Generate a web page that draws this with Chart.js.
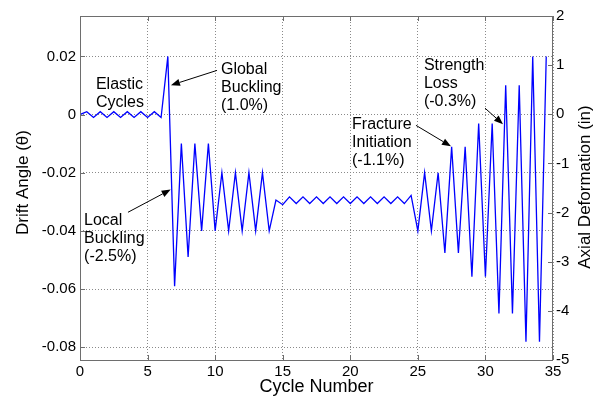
<!DOCTYPE html>
<html>
<head>
<meta charset="utf-8">
<script src="https://cdn.jsdelivr.net/npm/chart.js@4.4.1/dist/chart.umd.min.js"></script>
<style>
  html, body { margin: 0; padding: 0; background: #fff; }
</style>
</head>
<body>
<canvas id="chart" width="597" height="398"></canvas>
<script>
// cycle number of each turning point of the loading history
const cycles = [
  0, 0.5, 1, 1.5, 2, 2.5, 3, 3.5, 4, 4.5, 5, 5.5, 6,
  6.5, 7, 7.5, 8, 8.5, 9, 9.5, 10, 10.5, 11, 11.5, 12, 12.5, 13, 13.5, 14,
  14.5, 15, 15.5, 16, 16.5, 17, 17.5, 18, 18.5, 19, 19.5, 20, 20.5, 21, 21.5,
  22, 22.5, 23, 23.5, 24, 24.5,
  25, 25.5, 26, 26.5, 27, 27.5, 28, 28.5, 29, 29.5, 30, 30.5, 31, 31.5, 32,
  32.5, 33, 33.5, 34, 34.5
];
// drift angle at those points
const driftAngle = [
  0, 0.001, -0.001, 0.001, -0.001, 0.001, -0.001, 0.001, -0.001, 0.001, -0.001, 0.001, -0.001,
  0.02, -0.059, -0.01, -0.049, -0.01, -0.04, -0.01, -0.04, -0.02, -0.04, -0.02, -0.04, -0.02, -0.04, -0.02, -0.04,
  -0.0294, -0.031, -0.0283, -0.0306, -0.0283, -0.0306, -0.0283, -0.0306, -0.0283, -0.0306, -0.0283, -0.0306, -0.0283, -0.0306, -0.0283,
  -0.0306, -0.0283, -0.0306, -0.0283, -0.0306, -0.0278,
  -0.04, -0.02, -0.04, -0.02, -0.0476, -0.0111, -0.0476, -0.0111, -0.0558, -0.0031, -0.0558, -0.0031, -0.0684, 0.0101, -0.0684,
  0.0101, -0.0781, 0.02, -0.0781, 0.02
];

const cycleTicks = [0, 5, 10, 15, 20, 25, 30, 35];
const driftTicks = [-0.08, -0.06, -0.04, -0.02, 0, 0.02];
const axialTicks = [-5, -4, -3, -2, -1, 0, 1, 2];

// callouts: text anchored at first baseline, arrows tail -> head (data units)
const notes = [
  { lines: ["Elastic", "Cycles"], x: 1.18, y: 0.0089 },
  { lines: ["Global", "Buckling", "(1.0%)"], x: 10.43, y: 0.0141 },
  { lines: ["Local", "Buckling", "(-2.5%)"], x: 0.3, y: -0.038 },
  { lines: ["Fracture", "Initiation", "(-1.1%)"], x: 20.13, y: -0.0051 },
  { lines: ["Strength", "Loss", "(-0.3%)"], x: 25.45, y: 0.0154 },
];
const arrows = [
  { from: [10.14, 0.0152], to: [6.73, 0.0101] },
  { from: [3.55, -0.0336], to: [6.71, -0.0258] },
  { from: [24.86, -0.0037], to: [27.45, -0.0109] },
  { from: [29.97, 0.0022], to: [31.3, -0.0033] },
];

const FONT = "'Liberation Sans', Arial, sans-serif";
const frameColor = "#6e6e6e";

const overlay = {
  id: "overlay",
  afterDraw(chart) {
    const { ctx, chartArea: a, scales } = chart;
    const sx = scales.x, sy = scales.y, sy2 = scales.y2;
    ctx.save();

    // box and inward ticks
    ctx.strokeStyle = frameColor;
    ctx.lineWidth = 1;
    ctx.strokeRect(a.left + 0.5, a.top + 0.5, a.right - a.left - 1, a.bottom - a.top);
    ctx.beginPath();
    driftTicks.forEach((v) => {
      const p = Math.round(sy.getPixelForValue(v)) + 0.5;
      ctx.moveTo(a.left, p);
      ctx.lineTo(a.left + 5, p);
    });
    axialTicks.forEach((v) => {
      const p = Math.round(sy2.getPixelForValue(v)) + 0.5;
      ctx.moveTo(a.right - 5, p);
      ctx.lineTo(a.right, p);
    });
    cycleTicks.forEach((v) => {
      const p = Math.round(sx.getPixelForValue(v)) + 0.5;
      ctx.moveTo(p, a.bottom);
      ctx.lineTo(p, a.bottom - 5);
      ctx.moveTo(p, a.top);
      ctx.lineTo(p, a.top + 5);
    });
    ctx.stroke();

    // axis titles read bottom to top on both sides
    ctx.fillStyle = "#000";
    ctx.font = "17px " + FONT;
    ctx.textAlign = "center";
    ctx.textBaseline = "middle";
    ctx.save();
    ctx.translate(23.5, 182.5);
    ctx.rotate(-Math.PI / 2);
    ctx.fillText("Drift Angle (\u03b8)", 0, 0);
    ctx.restore();
    ctx.save();
    ctx.translate(585, 187);
    ctx.rotate(-Math.PI / 2);
    ctx.fillText("Axial Deformation (in)", 0, 0);
    ctx.restore();

    // callout text
    ctx.font = "16px " + FONT;
    ctx.textAlign = "left";
    ctx.textBaseline = "alphabetic";
    notes.forEach((n) => {
      const px = sx.getPixelForValue(n.x);
      const py = sy.getPixelForValue(n.y);
      n.lines.forEach((t, i) => ctx.fillText(t, px, py + i * 18));
    });

    // arrows
    ctx.strokeStyle = "#000";
    ctx.fillStyle = "#000";
    arrows.forEach((ar) => {
      const x1 = sx.getPixelForValue(ar.from[0]), y1 = sy.getPixelForValue(ar.from[1]);
      const x2 = sx.getPixelForValue(ar.to[0]), y2 = sy.getPixelForValue(ar.to[1]);
      const ang = Math.atan2(y2 - y1, x2 - x1);
      const len = 9, half = 3.5;
      const bx = x2 - len * Math.cos(ang), by = y2 - len * Math.sin(ang);
      ctx.beginPath();
      ctx.moveTo(x1, y1);
      ctx.lineTo(bx, by);
      ctx.stroke();
      ctx.beginPath();
      ctx.moveTo(x2, y2);
      ctx.lineTo(bx + half * Math.sin(ang), by - half * Math.cos(ang));
      ctx.lineTo(bx - half * Math.sin(ang), by + half * Math.cos(ang));
      ctx.closePath();
      ctx.fill();
    });

    ctx.restore();
  },
};

const gridOpts = { color: "#8a8a8a", lineWidth: 1, drawTicks: false };
const borderOpts = { display: false, dash: [1, 2] };

new Chart(document.getElementById("chart"), {
  type: "line",
  data: {
    datasets: [
      {
        data: cycles.map((c, i) => ({ x: c, y: driftAngle[i] })),
        borderColor: "#0000ff",
        borderWidth: 1.3,
        pointRadius: 0,
        tension: 0,
        fill: false,
        yAxisID: "y",
      },
    ],
  },
  options: {
    responsive: false,
    animation: false,
    layout: { padding: { top: 16, left: 0, right: 0, bottom: 0 } },
    plugins: { legend: { display: false }, tooltip: { enabled: false } },
    scales: {
      x: {
        type: "linear",
        min: 0,
        max: 35,
        afterBuildTicks: (s) => { s.ticks = cycleTicks.map((v) => ({ value: v })); },
        afterFit: (s) => { s.height = 38; },
        grid: gridOpts,
        border: borderOpts,
        ticks: { color: "#000", padding: 3, font: { family: FONT, size: 15 }, callback: (v) => String(v), maxRotation: 0 },
        title: {
          display: true,
          text: "Cycle Number",
          color: "#000",
          font: { family: FONT, size: 18 },
          padding: { top: 0, bottom: 0 },
        },
      },
      y: {
        type: "linear",
        position: "left",
        min: -0.0844,
        max: 0.0339,
        afterBuildTicks: (s) => { s.ticks = driftTicks.map((v) => ({ value: v })); },
        afterFit: (s) => { s.width = 80; },
        grid: gridOpts,
        border: borderOpts,
        ticks: {
          color: "#000",
          padding: 4,
          font: { family: FONT, size: 15 },
          callback: (v) => (v === 0 ? "0" : v.toFixed(2)),
        },
      },
      y2: {
        type: "linear",
        position: "right",
        min: -5,
        max: 2,
        afterBuildTicks: (s) => { s.ticks = axialTicks.map((v) => ({ value: v })); },
        afterFit: (s) => { s.width = 44; },
        grid: { display: false, drawTicks: false },
        border: { display: false },
        ticks: { color: "#000", padding: 3, font: { family: FONT, size: 15 }, callback: (v) => String(v) },
      },
    },
  },
  plugins: [overlay],
});
</script>
</body>
</html>
